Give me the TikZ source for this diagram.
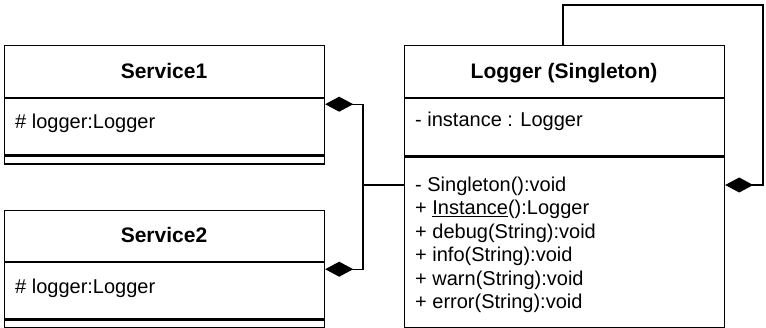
\documentclass[tikz,border=0pt]{standalone}
\usepackage{fontspec}
\setmainfont{Liberation Sans}
\usetikzlibrary{arrows.meta,calc}
\begin{document}
\begin{tikzpicture}[x=1pt,y=-1pt,
  compart/.style={draw=black, line width=1.2pt, minimum width=320pt,
    inner sep=0pt, anchor=north west},
  title/.style={inner sep=0pt, anchor=base, font=\fontsize{21}{25}\selectfont\bfseries},
  member/.style={inner sep=0pt, anchor=base west, font=\fontsize{20}{24}\selectfont},
  assoc/.style={line width=1.2pt, {Diamond[length=28pt,width=15pt]}-}]
\useasboundingbox (0,0) rectangle (766,327);

% Service1 class
\node[compart, minimum height=52pt] (s1h) at (4,45) {};
\node[compart, minimum height=56pt] (s1a) at (s1h.south west) {};
\node[compart, minimum height=8pt]  (s1m) at (s1a.south west) {};
\node[title] (s1t) at (164,78) {Service1};
\node[member] (s1x) at (15,128) {\# logger:Logger};

% Service2 class
\node[compart, minimum height=51pt] (s2h) at (4,210) {};
\node[compart, minimum height=56pt] (s2a) at (s2h.south west) {};
\node[compart, minimum height=8pt]  (s2m) at (s2a.south west) {};
\node[title] (s2t) at (164,242) {Service2};
\node[member] (s2x) at (15,293) {\# logger:Logger};

% Logger class
\node[compart, minimum height=52pt]  (lh) at (404,45) {};
\node[compart, minimum height=57pt]  (la) at (lh.south west) {};
\node[compart, minimum height=171pt] (lm) at (la.south west) {};
\node[title] (lt) at (564,78) {Logger (Singleton)};
\node[member] (lx) at (415,126) {- instance : Logger};
\node[member] (m1) at (415,191)   {- Singleton():void};
\node[member] (m2) at (415,214.5) {+ \underline{Instance}():Logger};
\node[member] (m3) at (415,238)   {+ debug(String):void};
\node[member] (m4) at (415,261.5) {+ info(String):void};
\node[member] (m5) at (415,285)   {+ warn(String):void};
\node[member] (m6) at (415,308.5) {+ error(String):void};

% composition connectors
\coordinate (j) at (363,185);
\draw[assoc] ($(s1a.north east)+(0,6)$) -| (j);
\draw[assoc] ($(s2a.north east)+(0,7)$) -| (j);
\draw[line width=1.2pt] (j) -- (j -| lm.west);

% self composition loop
\coordinate (loopc) at (763,5);
\draw[assoc] (j -| lm.east) -| (loopc) -| ($(lh.north west)+(159,0)$);
\end{tikzpicture}
\end{document}
